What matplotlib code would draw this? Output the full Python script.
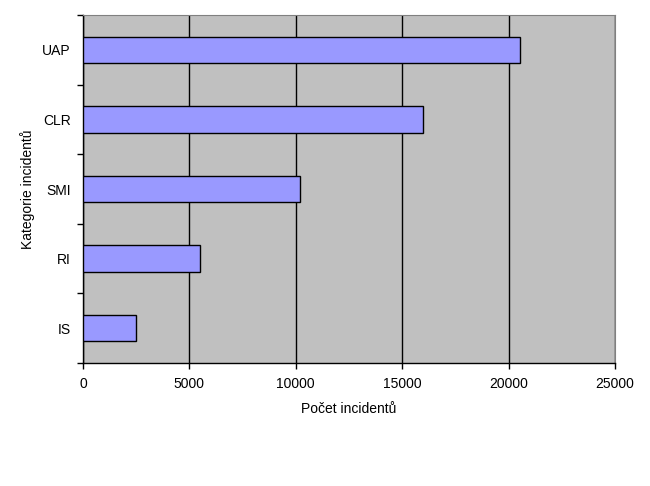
import numpy as np
import matplotlib.pyplot as plt

categories = ["IS", "RI", "SMI", "CLR", "UAP"]
counts = [2500, 5500, 10200, 16000, 20550]
xticks = [0, 5000, 10000, 15000, 20000, 25000]

plt.rcParams['font.family'] = ['Liberation Sans', 'DejaVu Sans']

fig = plt.figure(figsize=(6.5, 4.86), dpi=100)
ax = fig.add_axes([83 / 650, 1 - 363 / 486, 532 / 650, 348 / 486])
ax.set_facecolor('#C0C0C0')

y = np.arange(len(categories))
ax.barh(y, counts, height=0.38, color='#9999FF', edgecolor='black', linewidth=1, zorder=3)

# vertical gridlines
ax.set_xlim(0, 25000)
ax.set_xticks(xticks)
ax.set_xticklabels([str(v) for v in xticks], fontsize=10)
ax.grid(axis='x', color='black', linewidth=1, zorder=1)
ax.set_axisbelow(True)

# category labels at centres, tick marks between categories
ax.set_ylim(-0.5, len(categories) - 0.5)
ax.set_yticks(y)
ax.set_yticklabels(categories, fontsize=10)
ax.set_yticks(np.arange(-0.5, len(categories)), minor=True)
ax.tick_params(axis='y', which='major', length=0, pad=9)
ax.tick_params(axis='y', which='minor', length=4, width=1, direction='out')
ax.tick_params(axis='x', which='major', length=4, width=1, direction='out', pad=6)

for s in ['top', 'right']:
    ax.spines[s].set_color('#808080')
    ax.spines[s].set_linewidth(0.8)
for s in ['left', 'bottom']:
    ax.spines[s].set_color('black')
    ax.spines[s].set_linewidth(1)

ax.set_xlabel("Počet incidentů", fontsize=10, labelpad=8)
ax.set_ylabel("Kategorie incidentů", fontsize=10, labelpad=5)

fig.savefig("out.png", dpi=100)
